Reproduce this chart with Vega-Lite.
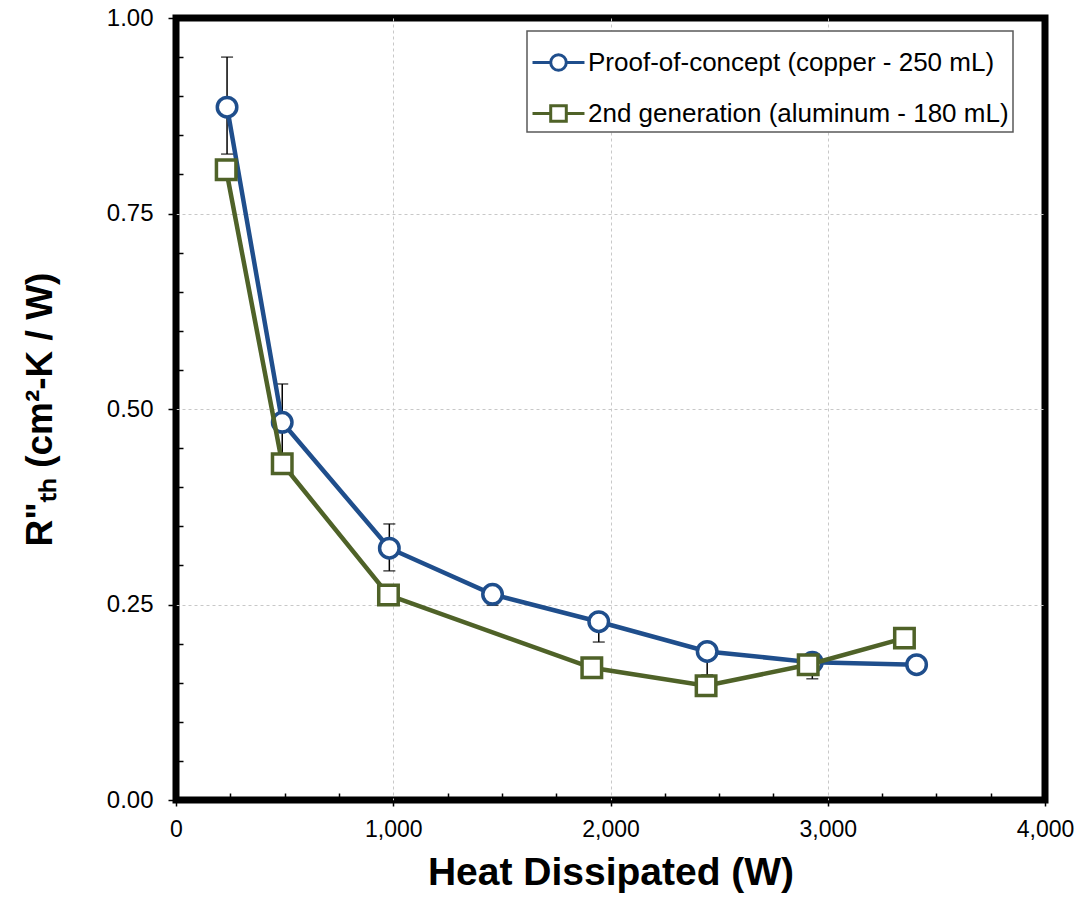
{
  "$schema": "https://vega.github.io/schema/vega-lite/v6.json",
  "autosize": "none",
  "width": 869,
  "height": 782,
  "padding": {"left": 176, "top": 18, "right": 30, "bottom": 113},
  "background": "white",
  "config": {
    "view": {"stroke": "black", "strokeWidth": 7},
    "axis": {"domain": false, "tickColor": "black", "tickWidth": 1.5, "gridColor": "#c8c8c8", "gridDash": [3, 3], "gridWidth": 1, "labelColor": "black", "titleColor": "black"}
  },
  "datasets": {
    "main": [
      {"series": "Proof-of-concept (copper - 250 mL)", "x": 235, "y": 0.886},
      {"series": "Proof-of-concept (copper - 250 mL)", "x": 489, "y": 0.483},
      {"series": "Proof-of-concept (copper - 250 mL)", "x": 982, "y": 0.322},
      {"series": "Proof-of-concept (copper - 250 mL)", "x": 1457, "y": 0.263},
      {"series": "Proof-of-concept (copper - 250 mL)", "x": 1946, "y": 0.228},
      {"series": "Proof-of-concept (copper - 250 mL)", "x": 2445, "y": 0.19},
      {"series": "Proof-of-concept (copper - 250 mL)", "x": 2929, "y": 0.176},
      {"series": "Proof-of-concept (copper - 250 mL)", "x": 3409, "y": 0.173},
      {"series": "\u00a02nd generation (aluminum - 180 mL)", "x": 231, "y": 0.806},
      {"series": "\u00a02nd generation (aluminum - 180 mL)", "x": 489, "y": 0.43},
      {"series": "\u00a02nd generation (aluminum - 180 mL)", "x": 978, "y": 0.262},
      {"series": "\u00a02nd generation (aluminum - 180 mL)", "x": 1914, "y": 0.169},
      {"series": "\u00a02nd generation (aluminum - 180 mL)", "x": 2440, "y": 0.146},
      {"series": "\u00a02nd generation (aluminum - 180 mL)", "x": 2910, "y": 0.173},
      {"series": "\u00a02nd generation (aluminum - 180 mL)", "x": 3353, "y": 0.207}
    ],
    "err": [
      {"x": 235, "lo": 0.826, "hi": 0.95},
      {"x": 489, "lo": 0.434, "hi": 0.532},
      {"x": 982, "lo": 0.293, "hi": 0.353},
      {"x": 1457, "lo": 0.249, "hi": 0.263},
      {"x": 1946, "lo": 0.202, "hi": 0.228},
      {"x": 2445, "lo": 0.16, "hi": 0.19},
      {"x": 2929, "lo": 0.155, "hi": 0.176}
    ],
    "caps": [
      {"x": 235, "v": 0.826}, {"x": 235, "v": 0.95},
      {"x": 489, "v": 0.434}, {"x": 489, "v": 0.532},
      {"x": 982, "v": 0.293}, {"x": 982, "v": 0.353},
      {"x": 1457, "v": 0.249},
      {"x": 1946, "v": 0.202},
      {"x": 2445, "v": 0.16},
      {"x": 2929, "v": 0.155}
    ]
  },
  "encoding": {
    "x": {
      "field": "x", "type": "quantitative",
      "scale": {"domain": [0, 4000], "nice": false, "zero": false},
      "axis": {
        "title": "Heat Dissipated  (W)",
        "values": [0, 250, 500, 750, 1000, 1250, 1500, 1750, 2000, 2250, 2500, 2750, 3000, 3250, 3500, 3750, 4000],
        "labelExpr": "datum.value % 1000 === 0 ? format(datum.value, ',') : ''",
        "tickSize": {"condition": {"test": "datum.value % 1000 === 0", "value": 6}, "value": -7},
        "gridOpacity": {"condition": {"test": "datum.value % 1000 === 0 && datum.value > 0 && datum.value < 4000", "value": 1}, "value": 0},
        "labelFont": "Liberation Sans Narrow, Liberation Sans, Arial",
        "labelFontSize": 23,
        "labelPadding": 12,
        "labelFlush": false,
        "titleFont": "Liberation Sans Narrow, Liberation Sans, Arial",
        "titleFontWeight": "bold",
        "titleFontSize": 39,
        "titlePadding": 12
      }
    },
    "y": {
      "type": "quantitative",
      "scale": {"domain": [0, 1], "nice": false, "zero": false},
      "axis": {
        "title": "R\"ₜₕ (cm²-K / W)",
        "values": [0, 0.05, 0.1, 0.15, 0.2, 0.25, 0.3, 0.35, 0.4, 0.45, 0.5, 0.55, 0.6, 0.65, 0.7, 0.75, 0.8, 0.85, 0.9, 0.95, 1],
        "labelExpr": "abs(datum.value * 4 - round(datum.value * 4)) < 0.001 ? format(datum.value, '.2f') : ''",
        "tickSize": {"condition": {"test": "abs(datum.value * 4 - round(datum.value * 4)) < 0.001", "value": 8}, "value": -7},
        "gridOpacity": {"condition": {"test": "abs(datum.value * 4 - round(datum.value * 4)) < 0.001 && datum.value > 0.01 && datum.value < 0.99", "value": 1}, "value": 0},
        "labelFont": "Liberation Sans, Arial",
        "labelFontSize": 24,
        "labelPadding": 15,
        "labelFlush": false,
        "titleFont": "Liberation Sans, Arial",
        "titleFontWeight": "bold",
        "titleFontSize": 37,
        "titlePadding": 47
      }
    }
  },
  "layer": [
    {
      "data": {"name": "err"},
      "mark": {"type": "rule", "color": "black", "strokeWidth": 1.5},
      "encoding": {"y": {"field": "lo"}, "y2": {"field": "hi"}}
    },
    {
      "data": {"name": "caps"},
      "mark": {"type": "tick", "orient": "horizontal", "color": "black", "thickness": 1.5, "size": 12},
      "encoding": {"y": {"field": "v"}}
    },
    {
      "data": {"name": "main"},
      "transform": [{"filter": "datum.series === 'Proof-of-concept (copper - 250 mL)'"}],
      "mark": {"type": "line", "strokeWidth": 4.5},
      "encoding": {
        "y": {"field": "y"},
        "color": {
          "field": "series", "type": "nominal",
          "scale": {"domain": ["Proof-of-concept (copper - 250 mL)", "\u00a02nd generation (aluminum - 180 mL)"], "range": ["#1F4E8C", "#4F6228"]},
          "legend": {
            "title": null,
            "orient": "none",
            "legendX": 351,
            "legendY": 13,
            "direction": "vertical",
            "fillColor": "white",
            "strokeColor": "#595959",
            "padding": 4,
            "rowPadding": 9,
            "symbolSize": 2700,
            "symbolStrokeWidth": 3,
            "symbolFillColor": "white",
            "labelFont": "Liberation Sans, Arial",
            "labelFontSize": 26,
            "labelColor": "black",
            "labelOffset": 2,
            "labelLimit": 600,
            "encode": {
              "legend": {"update": {"strokeWidth": {"value": 1.5}}},
              "symbols": {
                "update": {
                  "shape": {"signal": "datum.value === 'Proof-of-concept (copper - 250 mL)' ? 'M-1,0H-0.3M0.3,0H1M0.3,0A0.3,0.3,0,1,1,-0.3,0A0.3,0.3,0,1,1,0.3,0' : 'M-1,0H-0.3M0.3,0H1M-0.3,-0.3H0.3V0.3H-0.3Z'"},
                  "fill": {"value": "white"},
                  "strokeWidth": {"value": 3}
                }
              }
            }
          }
        }
      }
    },
    {
      "data": {"name": "main"},
      "transform": [{"filter": "datum.series === 'Proof-of-concept (copper - 250 mL)'"}],
      "mark": {"type": "point", "shape": "circle", "filled": false, "fill": "white", "fillOpacity": 1, "strokeWidth": 3.5, "size": 380, "opacity": 1},
      "encoding": {
        "y": {"field": "y"},
        "color": {"field": "series", "type": "nominal"}
      }
    },
    {
      "data": {"name": "main"},
      "transform": [{"filter": "datum.series !== 'Proof-of-concept (copper - 250 mL)'"}],
      "mark": {"type": "line", "strokeWidth": 4.5},
      "encoding": {
        "y": {"field": "y"},
        "color": {"field": "series", "type": "nominal"}
      }
    },
    {
      "data": {"name": "main"},
      "transform": [{"filter": "datum.series !== 'Proof-of-concept (copper - 250 mL)'"}],
      "mark": {"type": "point", "shape": "square", "filled": false, "fill": "white", "fillOpacity": 1, "strokeWidth": 3.5, "size": 380, "opacity": 1},
      "encoding": {
        "y": {"field": "y"},
        "color": {"field": "series", "type": "nominal"}
      }
    }
  ]
}
